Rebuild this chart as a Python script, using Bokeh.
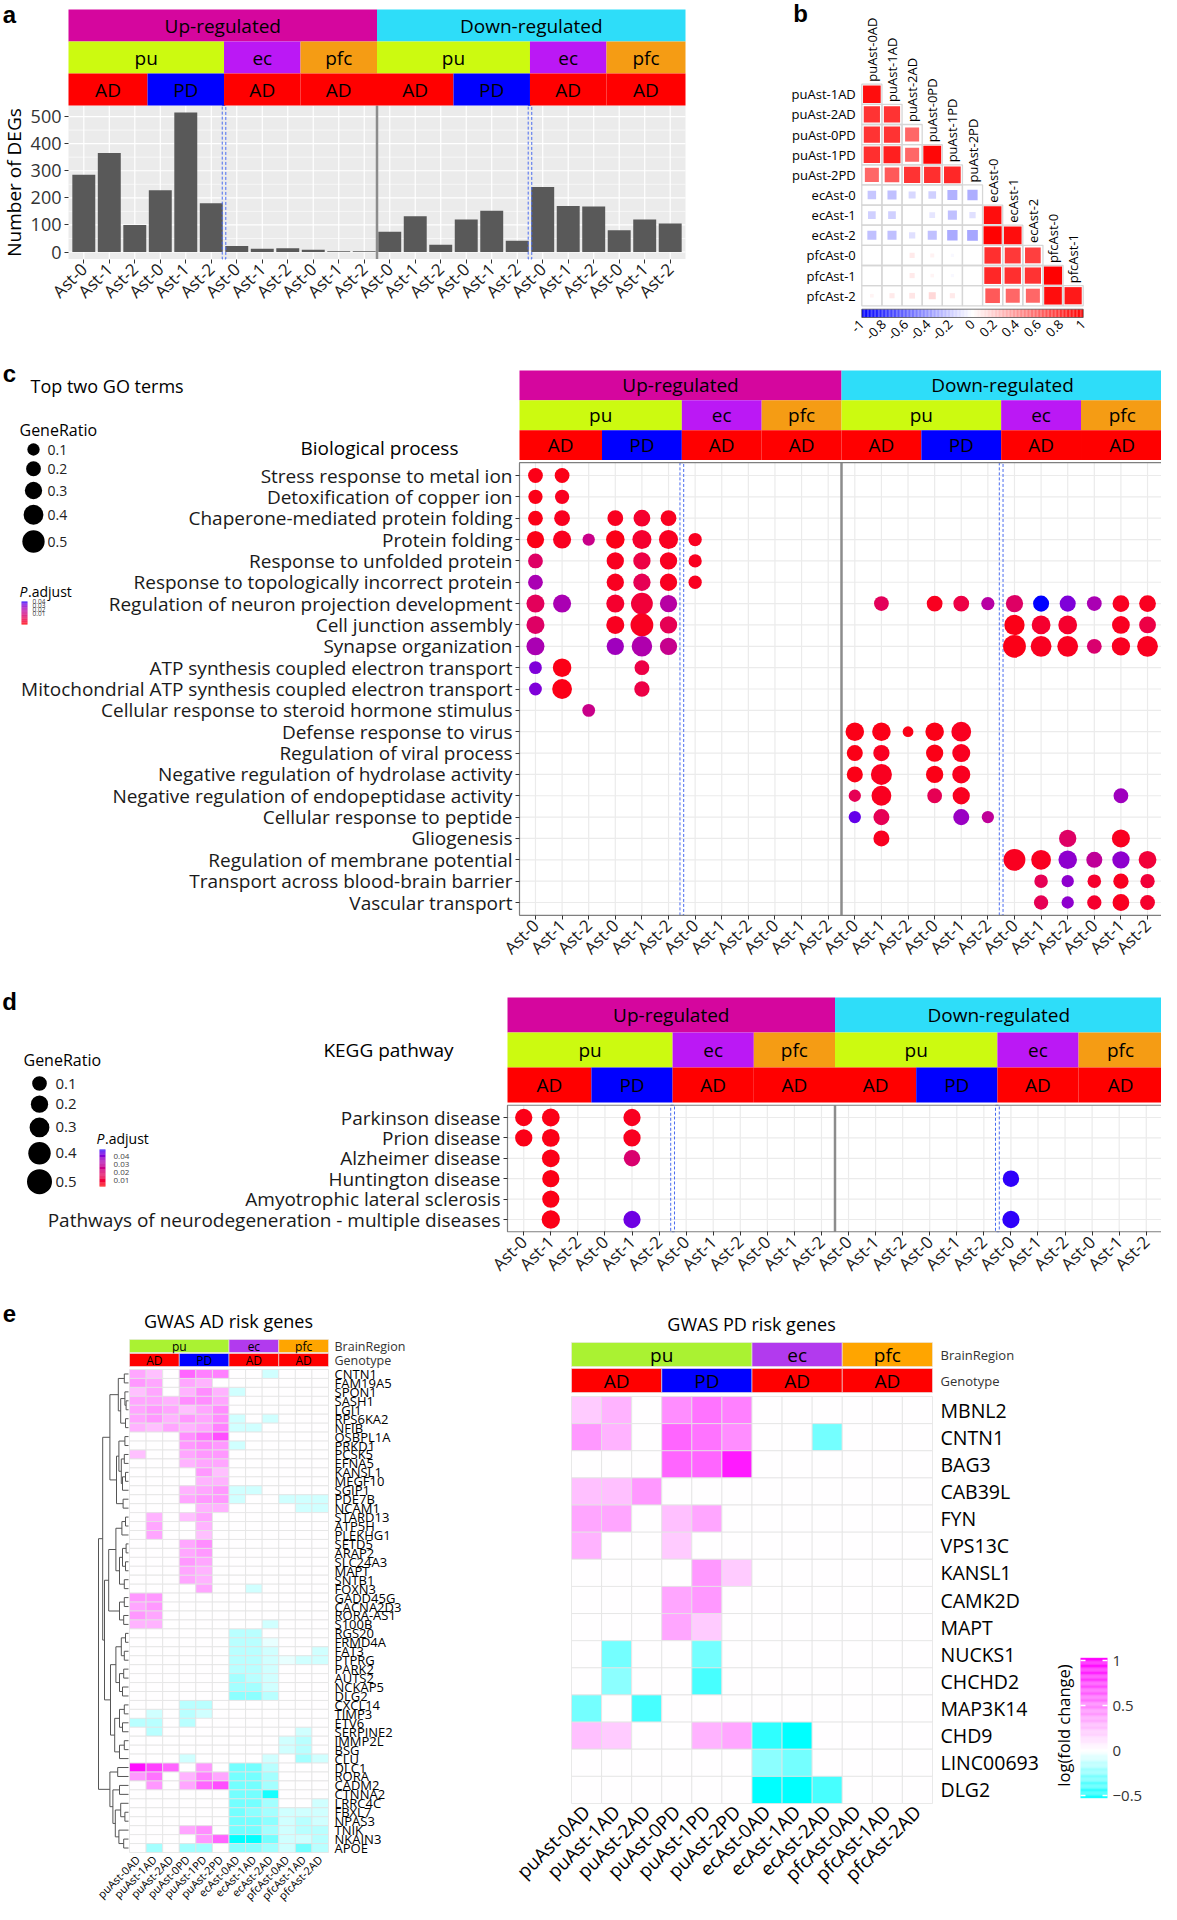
import numpy as np
from math import pi
from bokeh.plotting import figure
from bokeh.models import Range1d, LinearAxis, FixedTicker, LinearColorMapper, ColumnDataSource
from bokeh.transform import transform
from bokeh.core.properties import value
from bokeh.embed import file_html
from bokeh.resources import INLINE

FONT = "Open Sans"
W, H, OFF = 1161, 1902, 8

# ------------------------------------------------------------------ data
clusters = ["Ast-0", "Ast-1", "Ast-2"]
directions = ["Up-regulated", "Down-regulated"]
regions = ["pu", "ec", "pfc"]
region_ncols = [6, 3, 3]
genotypes = ["AD", "PD", "AD", "AD"]
genotype_ncols = [3, 3, 3, 3]
col_labels = clusters * 8

# panel a : number of DEGs
deg_up = [285, 365, 100, 228, 515, 180, 22, 12, 14, 8, 3, 3]
deg_down = [75, 132, 27, 120, 152, 42, 240, 170, 168, 80, 120, 105]

# panel b : correlation (lower triangle)
corr_rows = ["puAst-1AD", "puAst-2AD", "puAst-0PD", "puAst-1PD", "puAst-2PD", "ecAst-0",
             "ecAst-1", "ecAst-2", "pfcAst-0", "pfcAst-1", "pfcAst-2"]
corr_cols = ["puAst-0AD", "puAst-1AD", "puAst-2AD", "puAst-0PD", "puAst-1PD", "puAst-2PD",
             "ecAst-0", "ecAst-1", "ecAst-2", "pfcAst-0", "pfcAst-1"]
corr_vals = [
    [0.95],
    [0.8, 0.8],
    [0.8, 0.8, 0.6],
    [0.82, 0.88, 0.6, 0.97],
    [0.6, 0.65, 0.8, 0.82, 0.85],
    [-0.22, -0.25, -0.15, -0.18, -0.3, -0.32],
    [-0.18, -0.18, 0.0, -0.1, -0.25, -0.12, 0.95],
    [-0.25, -0.25, -0.12, -0.25, -0.33, -0.35, 1.0, 0.95],
    [0.0, 0.0, 0.08, 0.05, -0.03, 0.0, 0.82, 0.78, 0.75],
    [0.0, 0.0, 0.08, 0.04, -0.03, 0.0, 0.85, 0.82, 0.8, 1.0],
    [0.04, 0.08, 0.1, 0.15, 0.08, 0.0, 0.65, 0.6, 0.6, 0.95, 0.9],
]

# panel c : GO terms
go_terms = ["Stress response to metal ion", "Detoxification of copper ion",
            "Chaperone-mediated protein folding", "Protein folding",
            "Response to unfolded protein", "Response to topologically incorrect protein",
            "Regulation of neuron projection development", "Cell junction assembly",
            "Synapse organization", "ATP synthesis coupled electron transport",
            "Mitochondrial ATP synthesis coupled electron transport",
            "Cellular response to steroid hormone stimulus", "Defense response to virus",
            "Regulation of viral process", "Negative regulation of hydrolase activity",
            "Negative regulation of endopeptidase activity", "Cellular response to peptide",
            "Gliogenesis", "Regulation of membrane potential",
            "Transport across blood-brain barrier", "Vascular transport"]
go_cols = [[0, 1], [0, 1], [0, 1, 3, 4, 5], [0, 1, 2, 3, 4, 5, 6], [0, 3, 4, 5, 6], [0, 3, 4, 5, 6],
           [0, 1, 3, 4, 5, 13, 15, 16, 17, 18, 19, 20, 21, 22, 23],
           [0, 3, 4, 5, 18, 19, 20, 22, 23], [0, 3, 4, 5, 18, 19, 20, 21, 22, 23],
           [0, 1, 4], [0, 1, 4], [2], [12, 13, 14, 15, 16], [12, 13, 15, 16], [12, 13, 15, 16],
           [12, 13, 15, 16, 22], [12, 13, 16, 17], [13, 20, 22], [18, 19, 20, 21, 22, 23],
           [19, 20, 21, 22, 23], [19, 20, 21, 22, 23]]
go_ratios = [[0.2, 0.2], [0.18, 0.18], [0.2, 0.24, 0.24, 0.28, 0.24],
             [0.3, 0.33, 0.1, 0.35, 0.37, 0.37, 0.14], [0.2, 0.3, 0.3, 0.3, 0.14],
             [0.2, 0.3, 0.3, 0.3, 0.14],
             [0.33, 0.33, 0.33, 0.48, 0.3, 0.2, 0.24, 0.24, 0.14, 0.3, 0.25, 0.25, 0.2, 0.28, 0.28],
             [0.33, 0.33, 0.52, 0.3, 0.42, 0.36, 0.36, 0.32, 0.28],
             [0.33, 0.3, 0.43, 0.3, 0.52, 0.44, 0.44, 0.2, 0.34, 0.44],
             [0.12, 0.35, 0.2], [0.12, 0.4, 0.22], [0.12], [0.35, 0.35, 0.04, 0.35, 0.4],
             [0.25, 0.26, 0.3, 0.33], [0.25, 0.45, 0.3, 0.33], [0.1, 0.4, 0.2, 0.3, 0.2],
             [0.1, 0.25, 0.25, 0.1], [0.25, 0.3, 0.33], [0.48, 0.4, 0.35, 0.25, 0.3, 0.32],
             [0.15, 0.1, 0.15, 0.22, 0.18], [0.18, 0.1, 0.18, 0.28, 0.2]]
go_padjs = [[0.005, 0.005], [0.005, 0.006], [0.005, 0.006, 0.006, 0.008, 0.006],
            [0.005, 0.006, 0.025, 0.005, 0.008, 0.006, 0.006], [0.018, 0.006, 0.012, 0.006, 0.006],
            [0.033, 0.006, 0.015, 0.006, 0.006],
            [0.016, 0.033, 0.008, 0.01, 0.03, 0.016, 0.006, 0.012, 0.03, 0.018, 0.047, 0.04, 0.033, 0.006, 0.006],
            [0.018, 0.006, 0.006, 0.015, 0.005, 0.008, 0.008, 0.006, 0.012],
            [0.033, 0.035, 0.032, 0.026, 0.005, 0.006, 0.006, 0.02, 0.006, 0.006],
            [0.04, 0.005, 0.012], [0.04, 0.005, 0.012], [0.025], [0.005, 0.005, 0.005, 0.005, 0.006],
            [0.005, 0.006, 0.005, 0.006], [0.005, 0.006, 0.005, 0.006], [0.015, 0.006, 0.015, 0.006, 0.035],
            [0.043, 0.015, 0.036, 0.028], [0.006, 0.018, 0.006], [0.006, 0.006, 0.038, 0.028, 0.038, 0.01],
            [0.015, 0.038, 0.008, 0.006, 0.01], [0.015, 0.038, 0.008, 0.006, 0.008]]

# panel d : KEGG pathways
kegg_terms = ["Parkinson disease", "Prion disease", "Alzheimer disease", "Huntington disease",
              "Amyotrophic lateral sclerosis", "Pathways of neurodegeneration - multiple diseases"]
kegg_cols = [[0, 1, 4], [0, 1, 4], [1, 4], [1, 18], [1], [1, 4, 18]]
kegg_ratios = [[0.2, 0.22, 0.2], [0.2, 0.22, 0.2], [0.22, 0.17], [0.2, 0.17], [0.2], [0.24, 0.2, 0.2]]
kegg_padjs = [[0.005, 0.005, 0.006], [0.005, 0.005, 0.006], [0.005, 0.02], [0.005, 0.046],
              [0.005], [0.005, 0.042, 0.046]]
legend_ratios = [0.1, 0.2, 0.3, 0.4, 0.5]
legend_padj = [0.04, 0.03, 0.02, 0.01]

# panel e : GWAS heatmaps
sample_region = sum([[r] * n for r, n in zip(regions, region_ncols)], [])
sample_genotype = sum([[g] * n for g, n in zip(genotypes, genotype_ncols)], [])
samples = [sample_region[i] + clusters[i % 3] + sample_genotype[i] for i in range(12)]

ad_genes = ["CNTN1", "FAM19A5", "SPON1", "SASH1", "LGI1", "RPS6KA2", "NFIB", "OSBPL1A", "PRKD1",
            "PCSK5", "EFNA5", "KANSL1", "MEGF10", "SGIP1", "PDE7B", "NCAM1", "STARD13", "ATP5H",
            "PLEKHG1", "SETD5", "ARAP2", "SLC24A3", "MAPT", "SNTB1", "FOXN3", "GADD45G",
            "CACNA2D3", "RORA-AS1", "S100B", "RGS20", "FRMD4A", "FAT3", "PTPRG", "PARK2", "AUTS2",
            "NCKAP5", "DLG2", "CXCL14", "TIMP3", "ETV6", "SERPINE2", "IMMP2L", "BSG", "CLU",
            "DLC1", "RORA", "CADM2", "CTNNA2", "LRRC4C", "FBXL7", "NPAS3", "TNIK", "NKAIN3", "APOE"]
ad_lfc = [
    [0.35, 0.25, 0, 0.6, 0.5, 0.5, 0, 0, -0.1, 0, 0, 0],
    [0.4, 0.35, 0, 0.35, 0.3, 0, 0, 0, 0, 0, 0, 0],
    [0.25, 0.35, 0, 0.3, 0.45, 0.3, -0.1, 0, 0, 0, 0, 0],
    [0.35, 0.35, 0.3, 0.45, 0.45, 0.35, 0, 0, 0, 0, 0, 0],
    [0.35, 0.4, 0.35, 0.25, 0.35, 0.45, 0, 0, 0, 0, 0, 0],
    [0.35, 0.4, 0.3, 0.4, 0.35, 0.45, -0.1, 0, -0.1, 0, 0, 0],
    [0.3, 0.25, 0.35, 0.3, 0.35, 0.5, -0.1, -0.1, 0, 0, 0, 0],
    [0, 0, 0, 0.45, 0.55, 0.7, 0, 0, 0, 0, 0, 0],
    [0, 0, 0, 0.4, 0.45, 0.4, -0.1, 0, 0, 0, 0, 0],
    [0.25, 0, 0, 0.35, 0.4, 0.4, 0, 0, 0, 0, 0, 0],
    [0, 0, 0, 0.3, 0.35, 0.35, 0, 0, 0, 0, 0, 0],
    [0, 0, 0, 0, 0.4, 0.25, 0, 0, 0, 0, 0, 0],
    [0, 0, 0, 0, 0.3, 0.3, 0, 0, 0, 0, 0, 0],
    [0, 0, 0, 0.3, 0.35, 0.4, -0.1, -0.1, 0, 0, 0, 0],
    [0, 0, 0, 0.35, 0.4, 0.4, -0.1, 0, 0, -0.1, -0.1, -0.1],
    [0, 0, 0, 0, 0.3, 0.3, 0, 0, 0, 0, -0.1, -0.1],
    [0, 0.3, 0, 0.25, 0.35, 0, 0, 0, 0, 0, 0, 0],
    [0, 0.35, 0, 0, 0.3, 0, 0, 0, 0, 0, 0, 0],
    [0, 0.35, 0, 0, 0.25, 0, 0, 0, 0, 0, 0, 0],
    [0, 0, 0, 0.35, 0.45, 0, 0, 0, 0, 0, 0, 0],
    [0, 0, 0, 0.35, 0.4, 0, 0, 0, 0, 0, 0, 0],
    [0, 0, 0, 0.4, 0.35, 0, 0, 0, 0, 0, 0, 0],
    [0, 0, 0, 0.35, 0.3, 0, 0, 0, 0, 0, 0, 0],
    [0, 0, 0, 0.35, 0.3, 0, 0, 0, 0, 0, 0, 0],
    [0, 0, 0, 0, 0.35, 0, 0, -0.1, 0, 0, 0, 0],
    [0.4, 0.4, 0, 0, 0, 0, 0, 0, 0, 0, 0, 0],
    [0.35, 0.4, 0, 0, 0, 0, 0, 0, 0, 0, 0, 0],
    [0.4, 0.35, 0, 0, 0, 0, 0, 0, 0, 0, 0, 0],
    [0.3, 0.3, 0, 0, 0, 0, 0, 0, -0.1, 0, 0, 0],
    [0, 0, 0, 0, 0, 0, -0.15, -0.15, 0, 0, 0, 0],
    [0, 0, 0, 0, 0, 0, -0.15, -0.15, -0.05, 0, 0, 0],
    [0, 0, 0, 0, 0, 0, -0.15, -0.15, -0.1, 0, 0, -0.1],
    [0, 0, 0, 0, 0, 0, -0.15, -0.15, -0.1, -0.05, -0.1, -0.1],
    [0, 0, 0, 0, 0, 0, -0.15, -0.15, -0.1, 0, 0, 0],
    [0, 0, 0, 0, 0, 0, -0.2, -0.15, -0.1, 0, 0, 0],
    [0, 0, 0, 0, 0, 0, -0.2, -0.2, -0.1, 0, 0, 0],
    [0, 0, 0, 0, 0, 0, -0.25, -0.25, -0.15, 0, 0, 0],
    [0, 0, 0, -0.15, -0.15, 0, 0, 0, 0, 0, 0, 0],
    [0, -0.1, 0, -0.15, -0.1, 0, 0, 0, 0, 0, 0, 0],
    [-0.15, -0.15, 0, -0.15, 0, 0, 0, 0, 0, 0, 0, 0],
    [0, -0.15, 0, 0, 0, 0, 0, 0, 0, 0, -0.1, 0],
    [0, 0, 0, 0, 0, 0, 0, 0, 0, -0.1, -0.15, 0],
    [0, 0, 0, 0, 0, 0, 0, 0, 0, -0.1, -0.15, 0],
    [0, 0, 0, -0.1, 0, 0, 0, 0, -0.1, 0, -0.2, -0.1],
    [0.95, 0.75, 0.6, 0, 0.4, 0, -0.3, -0.3, -0.15, 0, 0, 0],
    [0.4, 0.55, 0, 0.3, 0.5, 0.35, -0.3, -0.3, -0.2, 0, 0, 0],
    [0, 0.4, 0, 0.35, 0.6, 0.7, -0.3, -0.3, -0.2, 0, 0, 0],
    [0, 0, 0, 0, 0, 0, -0.3, -0.3, -0.5, 0, 0, 0],
    [0, 0, 0, 0, 0, 0, -0.3, -0.3, -0.2, 0, 0, -0.1],
    [0, 0, 0, 0, 0, 0, -0.3, -0.25, -0.2, -0.1, -0.1, -0.1],
    [0, 0, 0, 0, 0, 0, -0.3, -0.3, -0.25, -0.1, -0.15, -0.1],
    [0, 0, 0, 0.35, 0.45, 0, -0.3, -0.3, -0.2, -0.1, -0.15, -0.15],
    [0, 0, 0, 0, 0.4, 0.6, -0.55, -0.6, -0.3, -0.1, -0.1, -0.15],
    [0, -0.2, 0, -0.2, -0.2, 0, -0.25, -0.25, -0.2, -0.1, -0.3, -0.15],
]
# dendrogram of AD genes: [merge height, left, right], leaves = row index
ad_dendrogram = [1.0,
    [0.86,
        [0.62,
            [0.34, [0.14, 0, 1], [0.26, [0.12, 2, [0.08, 3, 4]], [0.1, 5, 6]]],
            [0.4, [0.32, [0.12, 7, 8], [0.24, [0.14, 9, 10], [0.2, [0.1, 11, 12], 13]]], [0.18, 14, 15]]],
        [0.8,
            [0.66,
                [0.42, [0.22, [0.1, 16, 17], 18], [0.3, [0.2, [0.08, 19, 20], [0.1, 21, 22]], [0.14, 23, 24]]],
                [0.3, [0.14, 25, 26], [0.16, 27, 28]]],
            [0.6,
                [0.42, [0.24, [0.1, 29, 30], [0.14, 31, 32]], [0.3, [0.16, 33, 34], [0.2, 35, 36]]],
                [0.46, [0.3, [0.14, 37, 38], [0.2, 39, 40]], [0.3, [0.14, 41, 42], 43]]]]],
    [0.62,
        [0.36, 44, 45],
        [0.52, [0.3, 46, 47], [0.44, [0.26, 48, [0.12, 49, 50]], [0.32, 51, [0.16, 52, 53]]]]]]

pd_genes = ["MBNL2", "CNTN1", "BAG3", "CAB39L", "FYN", "VPS13C", "KANSL1", "CAMK2D", "MAPT",
            "NUCKS1", "CHCHD2", "MAP3K14", "CHD9", "LINC00693", "DLG2"]
pd_lfc = [
    [0.2, 0.3, 0, 0.45, 0.55, 0.5, 0, 0, 0, 0, 0, 0],
    [0.4, 0.3, 0, 0.6, 0.55, 0.45, 0, 0, -0.3, 0, 0, 0],
    [0, 0, 0, 0.6, 0.6, 0.9, 0, 0, 0, 0, 0, 0],
    [0.25, 0.25, 0.4, 0, 0, 0, 0, 0, 0, 0, 0, 0],
    [0.35, 0.35, 0, 0.25, 0.35, 0, 0, 0, 0, 0, 0, 0],
    [0.3, 0, 0, 0.2, 0, 0, 0, 0, 0, 0, 0, 0],
    [0, 0, 0, 0, 0.4, 0.2, 0, 0, 0, 0, 0, 0],
    [0, 0, 0, 0.35, 0.4, 0, 0, 0, 0, 0, 0, 0],
    [0, 0, 0, 0.35, 0.2, 0, 0, 0, 0, 0, 0, 0],
    [0, -0.3, 0, 0, -0.3, 0, 0, 0, 0, 0, 0, 0],
    [0, -0.25, 0, 0, -0.4, 0, 0, 0, 0, 0, 0, 0],
    [-0.3, 0, -0.4, 0, 0, 0, 0, 0, 0, 0, 0, 0],
    [0.25, 0.2, 0, 0, 0.3, 0.35, -0.45, -0.55, 0, 0, 0, 0],
    [0, 0, 0, 0, 0, 0, -0.25, -0.3, 0, 0, 0, 0],
    [0, 0, 0, 0, 0, 0, -0.6, -0.6, -0.4, 0, 0, 0],
]
lfc_ticks = [-0.5, 0, 0.5, 1]

# ------------------------------------------------------------------ colours
dir_colors = {"Up-regulated": "#D5069E", "Down-regulated": "#2EDDF9"}
reg_colors = {"pu": "#CCFA10", "ec": "#BB18F5", "pfc": "#F59C14"}
geno_colors = {"AD": "#FF0000", "PD": "#0000FF"}
e_reg_colors = {"pu": "#AAF232", "ec": "#B23AEE", "pfc": "#FFA500"}


def _lin(c):
    c = c / 255.0
    return c / 12.92 if c <= 0.04045 else ((c + 0.055) / 1.055) ** 2.4


def _gam(c):
    v = 12.92 * c if c <= 0.0031308 else 1.055 * max(c, 0) ** (1 / 2.4) - 0.055
    return int(round(min(1, max(0, v)) * 255))


def rgb2lab(rgb):
    r, g, b = [_lin(c) for c in rgb]
    X = (0.4124 * r + 0.3576 * g + 0.1805 * b) / 0.95047
    Y = 0.2126 * r + 0.7152 * g + 0.0722 * b
    Z = (0.0193 * r + 0.1192 * g + 0.9505 * b) / 1.08883
    f = lambda t: t ** (1 / 3) if t > 0.008856 else 7.787 * t + 16 / 116
    return 116 * f(Y) - 16, 500 * (f(X) - f(Y)), 200 * (f(Y) - f(Z))


def lab2hex(L, a, b):
    fy = (L + 16) / 116
    fx, fz = fy + a / 500, fy - b / 200
    fi = lambda t: t ** 3 if t ** 3 > 0.008856 else (t - 16 / 116) / 7.787
    X, Y, Z = 0.95047 * fi(fx), fi(fy), 1.08883 * fi(fz)
    r = 3.2406 * X - 1.5372 * Y - 0.4986 * Z
    g = -0.9689 * X + 1.8758 * Y + 0.0415 * Z
    bb = 0.0557 * X - 0.2040 * Y + 1.0570 * Z
    return "#%02x%02x%02x" % (_gam(r), _gam(g), _gam(bb))


lab_red, lab_blue = rgb2lab((255, 0, 0)), rgb2lab((0, 0, 255))
padj_palette = [lab2hex(*[lab_red[k] + (lab_blue[k] - lab_red[k]) * t / 255 for k in range(3)])
                for t in range(256)]
padj_mapper = LinearColorMapper(palette=padj_palette, low=0.003, high=0.047)


def hexrgb(r, g, b):
    return "#%02x%02x%02x" % (int(round(r)), int(round(g)), int(round(b)))


corr_palette = []
for k in range(256):
    v = -1 + 2 * (k + 0.5) / 256
    t = abs(v)
    corr_palette.append(hexrgb(255 * (1 - t), 255 * (1 - t), 255) if v < 0 else hexrgb(255, 255 * (1 - t), 255 * (1 - t)))
corr_mapper = LinearColorMapper(palette=corr_palette, low=-1, high=1)

LFC_LO, LFC_HI = -0.6, 1.05
lfc_palette = []
for k in range(256):
    v = LFC_LO + (LFC_HI - LFC_LO) * (k + 0.5) / 256
    if v < 0:
        t = min(1, -v / 0.55)
        lfc_palette.append(hexrgb(255 * (1 - t), 255, 255))
    else:
        t = min(1, v / 1.0)
        lfc_palette.append(hexrgb(255, 255 * (1 - t), 255))
lfc_mapper = LinearColorMapper(palette=lfc_palette, low=LFC_LO, high=LFC_HI)

# ------------------------------------------------------------------ figure & ranges
p = figure(width=W, height=H, x_range=Range1d(OFF, OFF + W), y_range=Range1d(OFF + H, OFF),
           output_backend="svg", toolbar_location=None, x_axis_type=None, y_axis_type=None,
           min_border=0)
p.outline_line_color = None
p.background_fill_color = "white"
p.border_fill_color = "white"

xr, yr = {}, {}


def add_x(name, d0, d1, px0, px1):
    s = (d1 - d0) / (px1 - px0)
    xr[name] = Range1d(start=d0 + (OFF - px0) * s, end=d0 + (OFF + W - px0) * s)


def add_y(name, d0, d1, py0, py1):
    s = (d1 - d0) / (py1 - py0)
    yr[name] = Range1d(start=d0 + (OFF + H - py0) * s, end=d0 + (OFF - py0) * s)


ncol = len(deg_up) + len(deg_down)
a_vals = deg_up + deg_down
a_ymax, a_ymin = max(a_vals) * 1.05, -max(a_vals) * 0.05
add_x("a_x", -0.6, ncol - 0.4, 76, 693)
add_y("a_y", a_ymin, a_ymax, 266.5, 113)
add_y("a_h", 0, 3, 113, 17)
add_x("b_x", -0.5, len(corr_cols) - 0.5, 869.3, 1090.7)
add_y("b_y", -0.5, len(corr_rows) - 0.5, 91.7, 313.3)
add_x("b_cb", -1, 1, 869.3, 1090.7)
add_x("c_x", -0.6, ncol - 0.4, 527, 1171)
add_y("c_y", 0, len(go_terms) - 1, 483, 910)
add_y("c_h", 0, 3, 467.5, 378)
add_x("d_x", -0.6, ncol - 0.4, 515, 1170)
add_y("d_y", 0, len(kegg_terms) - 1, 1125, 1227)
add_y("d_h", 0, 3, 1110, 1005)
add_x("el_x", -0.5, len(samples) - 0.5, 137, 336)
add_y("el_y", -0.5, len(ad_genes) - 0.5, 1377, 1860)
add_x("dd_x", 0, 1, 136, 106)
add_x("er_x", -0.5, len(samples) - 0.5, 579, 940)
add_y("er_y", -0.5, len(pd_genes) - 0.5, 1404, 1811)
add_y("ecb_y", 0, 1, 1758, 1668)
p.extra_x_ranges = xr
p.extra_y_ranges = yr


def R(xn=None, yn=None):
    d = {}
    if xn:
        d["x_range_name"] = xn
    if yn:
        d["y_range_name"] = yn
    return d


def T(x, y, s, size, xn=None, yn=None, align="center", base="middle", angle=0,
      color="black", style="normal", font=FONT):
    xs = list(x) if isinstance(x, (list, tuple, np.ndarray)) else [x]
    n = len(xs)
    ys = list(y) if isinstance(y, (list, tuple, np.ndarray)) else [y] * n
    ss = list(s) if isinstance(s, (list, tuple)) else [s] * n
    p.text(x=xs, y=ys, text=ss, text_font=value(font), text_font_size=f"{size}px",
           text_align=align, text_baseline=base, angle=angle, text_color=color,
           text_font_style=style, **R(xn, yn))


def axis(side, xn, yn, loc, ticks, labels, size, orient=None, standoff=4, color="#1A1A1A",
         tick_out=0, font=FONT):
    ticks = list(ticks)
    ax = LinearAxis(x_range_name=xn or "default", y_range_name=yn or "default",
                    fixed_location=loc, ticker=FixedTicker(ticks=ticks),
                    major_label_overrides={t: str(l) for t, l in zip(ticks, labels)})
    ax.axis_line_color = None
    ax.minor_tick_line_color = None
    ax.major_tick_in = 0
    ax.major_tick_out = tick_out
    ax.major_tick_line_color = "#333333" if tick_out else None
    ax.major_label_text_font = font
    ax.major_label_text_font_size = f"{size}px"
    ax.major_label_text_color = color
    ax.major_label_standoff = standoff
    if orient is not None:
        ax.major_label_orientation = orient
    p.add_layout(ax, side)


def header(xn, yn, fs):
    lefts, rights, lvls, labs, cols = [], [], [], [], []
    per_dir = sum(region_ncols)
    for di, d in enumerate(directions):
        base = di * per_dir
        spans = [(2, base, base + per_dir, d, dir_colors[d])]
        s = base
        for r, n in zip(regions, region_ncols):
            spans.append((1, s, s + n, r, reg_colors[r]))
            s += n
        s = base
        for g, n in zip(genotypes, genotype_ncols):
            spans.append((0, s, s + n, g, geno_colors[g]))
            s += n
        for lvl, s0, s1, lab, c in spans:
            lefts.append(-0.6 if s0 == 0 else s0 - 0.5)
            rights.append(ncol - 0.4 if s1 == ncol else s1 - 0.5)
            lvls.append(lvl)
            labs.append(lab)
            cols.append(c)
    p.quad(left=lefts, right=rights, bottom=lvls, top=[l + 1 for l in lvls], fill_color=cols,
           line_color=None, **R(xn, yn))
    T([(a + b) / 2 for a, b in zip(lefts, rights)], [l + 0.5 for l in lvls], labs, fs, xn, yn)


def separators(xn, yn, y0, y1):
    half = sum(region_ncols)
    solid = [half - 0.5]
    dashed = [region_ncols[0] - 0.5, half + region_ncols[0] - 0.5]
    p.segment(x0=solid, x1=solid, y0=y0, y1=y1, line_color="#8C8C8C", line_width=2.5, **R(xn, yn))
    p.quad(left=[s - 0.07 for s in dashed], right=[s + 0.07 for s in dashed], bottom=y0, top=y1,
           fill_color=None, line_color="#4A6CF0", line_dash="3 2", line_width=1, **R(xn, yn))


# ------------------------------------------------------------------ panel letters
T([17, 808, 17, 17, 17], [22, 21, 381, 1009, 1321], ["a", "b", "c", "d", "e"], 24,
  style="bold", font="Liberation Sans")

# ------------------------------------------------------------------ panel a
a_x = list(range(ncol))
p.quad(left=[-0.6], right=[ncol - 0.4], bottom=[a_ymin], top=[a_ymax], fill_color="#EBEBEB",
       line_color=None, **R("a_x", "a_y"))
y_major = list(range(0, int(a_ymax) + 1, 100))
y_minor = [v + 50 for v in y_major if v + 50 < a_ymax]
p.segment(x0=-0.6, x1=ncol - 0.4, y0=y_minor, y1=y_minor, line_color="white", line_width=0.6, **R("a_x", "a_y"))
p.segment(x0=-0.6, x1=ncol - 0.4, y0=y_major, y1=y_major, line_color="white", line_width=1.2, **R("a_x", "a_y"))
p.segment(x0=a_x, x1=a_x, y0=a_ymin, y1=a_ymax, line_color="white", line_width=1.2, **R("a_x", "a_y"))
p.vbar(x=a_x, top=a_vals, bottom=0, width=0.9, fill_color="#595959", line_color=None, **R("a_x", "a_y"))
separators("a_x", "a_y", a_ymin, a_ymax)
header("a_x", "a_h", 19)
axis("left", "a_x", "a_y", -0.6, y_major, [str(v) for v in y_major], 18, standoff=3,
     color="#333333", tick_out=4)
axis("below", "a_x", "a_y", a_ymin, a_x, col_labels, 17, orient=pi / 4, standoff=3,
     color="#1A1A1A", tick_out=4)
T(21, 190, "Number of DEGs", 19, angle=pi / 2)

# ------------------------------------------------------------------ panel b
bx, by, bv = [], [], []
for i, row in enumerate(corr_vals):
    for j, v in enumerate(row):
        bx.append(j)
        by.append(i)
        bv.append(v)
bsrc = ColumnDataSource(dict(x=bx, y=by, v=bv, s=[0.9 * np.sqrt(abs(v)) for v in bv]))
p.rect(x="x", y="y", width=1, height=1, source=bsrc, fill_color=None, line_color="#D6D6D6",
       line_width=1.3, **R("b_x", "b_y"))
p.rect(x="x", y="y", width="s", height="s", source=bsrc, fill_color=transform("v", corr_mapper),
       line_color=None, **R("b_x", "b_y"))
axis("left", "b_x", "b_y", -0.5, range(len(corr_rows)), corr_rows, 13, standoff=6, color="black")
T(list(range(len(corr_cols))), [j - 0.62 for j in range(len(corr_cols))], corr_cols, 13,
  "b_x", "b_y", align="left", angle=pi / 2)
cb = np.linspace(-1, 1, 161)
cbsrc = ColumnDataSource(dict(l=cb[:-1], r=cb[1:], m=(cb[:-1] + cb[1:]) / 2))
p.quad(left="l", right="r", bottom=325, top=316.7, source=cbsrc,
       fill_color=transform("m", corr_mapper), line_color=None, x_range_name="b_cb")
p.quad(left=[-1], right=[1], bottom=[325], top=[316.7], fill_color=None, line_color="#555555",
       line_width=0.8, x_range_name="b_cb")
cb_ticks = [round(-1 + 0.2 * k, 1) for k in range(11)]
axis("below", "b_cb", None, 325.5, cb_ticks, ["0" if abs(t) < 1e-9 else f"{t:g}" for t in cb_ticks],
     13, orient=pi / 4, standoff=4, color="black")


# ------------------------------------------------------------------ dot plots (c, d)
def dotplot(xn, yn, hn, terms, cols, ratios, padjs, size_fn, label_fs, hdr_fs):
    nt = len(terms)
    y0, y1 = -0.6, nt - 1 + 0.6
    rows_ = list(range(nt))
    p.segment(x0=a_x, x1=a_x, y0=y0, y1=y1, line_color="#EBEBEB", line_width=1.2, **R(xn, yn))
    p.segment(x0=-0.6, x1=ncol - 0.4, y0=rows_, y1=rows_, line_color="#EBEBEB", line_width=1.2, **R(xn, yn))
    separators(xn, yn, y0, y1)
    xs, ys, rs, ps = [], [], [], []
    for i in range(nt):
        for c, r, q in zip(cols[i], ratios[i], padjs[i]):
            xs.append(c)
            ys.append(i)
            rs.append(r)
            ps.append(q)
    src = ColumnDataSource(dict(x=xs, y=ys, size=[size_fn(r) for r in rs], padj=ps))
    p.scatter(x="x", y="y", size="size", source=src, fill_color=transform("padj", padj_mapper),
              line_color=None, **R(xn, yn))
    p.quad(left=[-0.6], right=[ncol - 0.4], bottom=[y0], top=[y1], fill_color=None,
           line_color="#7F7F7F", line_width=1.2, **R(xn, yn))
    header(xn, hn, hdr_fs)
    axis("left", xn, yn, -0.6, rows_, terms, label_fs, standoff=3, color="#1A1A1A", tick_out=4)
    axis("below", xn, yn, y1, a_x, col_labels, 17, orient=pi / 4, standoff=3, color="#1A1A1A",
         tick_out=4)


def size_legend(xc, y_first, xl, size_fn, gap, title_xy, lab_fs, title_fs):
    ds = [size_fn(v) for v in legend_ratios]
    ys = [y_first]
    for i in range(1, len(ds)):
        ys.append(ys[-1] + (ds[i - 1] + ds[i]) / 2 + gap)
    p.scatter(x=[xc] * len(ds), y=ys, size=ds, fill_color="black", line_color=None)
    T([xl] * len(ds), ys, [f"{v:g}" for v in legend_ratios], lab_fs, align="left", color="#222222")
    T(title_xy[0], title_xy[1], "GeneRatio", title_fs, align="left")


def padj_legend(x0, x1, ytop, ybot, lab_x, lab_y0, lab_step, lab_fs, title_xy):
    pv = np.linspace(0.047, 0.003, 41)
    yv = np.linspace(ytop, ybot, 41)
    src = ColumnDataSource(dict(t=yv[:-1], b=yv[1:], m=(pv[:-1] + pv[1:]) / 2))
    p.quad(left=x0, right=x1, top="t", bottom="b", source=src,
           fill_color=transform("m", padj_mapper), line_color=None)
    T([lab_x] * len(legend_padj), [lab_y0 + k * lab_step for k in range(len(legend_padj))],
      [f"{v:g}" for v in legend_padj], lab_fs, align="left", color="#444444")
    T(title_xy[0], title_xy[1], "P", 14, align="left", style="italic")
    T(title_xy[0] + 8.5, title_xy[1], ".adjust", 14, align="left")


size_c = lambda r: 9.8 + 25 * r
size_d = lambda r: 12.1 + 25.8 * r

dotplot("c_x", "c_y", "c_h", go_terms, go_cols, go_ratios, go_padjs, size_c, 19, 19)
T(38, 393, "Top two GO terms", 18, align="left")
T(387, 455, "Biological process", 19)
size_legend(41, 457, 55, size_c, 5.7, (27, 437), 14, 16)
padj_legend(29, 35, 609, 632, 40, 609, 4, 6.5, (27, 599))

dotplot("d_x", "d_y", "d_h", kegg_terms, kegg_cols, kegg_ratios, kegg_padjs, size_d, 19, 19)
T(396, 1057, "KEGG pathway", 19)
size_legend(47, 1091, 63, size_d, 4.7, (31, 1067), 15, 16)
padj_legend(107, 113, 1157, 1194, 121, 1164, 8, 8, (104, 1146))


# ------------------------------------------------------------------ panel e
def runs(keys):
    out, s = [], 0
    for i in range(1, len(keys) + 1):
        if i == len(keys) or keys[i] != keys[s]:
            out.append((s, i, keys[s]))
            s = i
    return out


def heatmap(xn, yn, genes, lfc, bar1, bar2, bar_fs, gene_fs, lab_fs, side_x, side_fs, xlab_y,
            gene_standoff):
    xs, ys, vs = [], [], []
    for i, row in enumerate(lfc):
        for j, v in enumerate(row):
            xs.append(j)
            ys.append(i)
            vs.append(v)
    src = ColumnDataSource(dict(x=xs, y=ys, v=vs))
    p.rect(x="x", y="y", width=1, height=1, source=src, fill_color=transform("v", lfc_mapper),
           line_color="#E3E3E3", line_width=0.8, **R(xn, yn))
    reg_runs = runs(sample_region)
    gen_runs = runs(list(zip(sample_region, sample_genotype)))
    for (top, bot), rr, colmap, lab in ((bar1, reg_runs, e_reg_colors, lambda k: k),
                                        (bar2, gen_runs, geno_colors, lambda k: k[1])):
        p.quad(left=[s - 0.5 for s, e, k in rr], right=[e - 0.5 for s, e, k in rr], top=top,
               bottom=bot, fill_color=[colmap[lab(k)] for s, e, k in rr], line_color="#E8E8E8",
               line_width=0.6, x_range_name=xn)
        T([(s + e) / 2 - 0.5 for s, e, k in rr], (top + bot) / 2, [lab(k) for s, e, k in rr],
          bar_fs, xn=xn)
    T(side_x, (bar1[0] + bar1[1]) / 2, "BrainRegion", side_fs, align="left", color="#333333")
    T(side_x, (bar2[0] + bar2[1]) / 2, "Genotype", side_fs, align="left", color="#333333")
    axis("right", xn, yn, len(samples) - 0.5, range(len(genes)), genes, gene_fs,
         standoff=gene_standoff, color="black")
    axis("below", xn, None, xlab_y, range(len(samples)), samples, lab_fs, orient=pi / 4,
         standoff=4, color="black")


heatmap("el_x", "el_y", ad_genes, ad_lfc, (1347, 1360), (1361, 1374), 12, 13, 11, 342, 12.5, 1861, 6)
T(236, 1328, "GWAS AD risk genes", 18)

seg = dict(x0=[], x1=[], y0=[], y1=[])


def walk(node):
    if isinstance(node, int):
        return float(node), 0.0
    h, l, r = node
    yl, hl = walk(l)
    yrr, hr = walk(r)
    for yy, hh in ((yl, hl), (yrr, hr)):
        seg["x0"].append(hh); seg["x1"].append(h); seg["y0"].append(yy); seg["y1"].append(yy)
    seg["x0"].append(h); seg["x1"].append(h); seg["y0"].append(yl); seg["y1"].append(yrr)
    return (yl + yrr) / 2, h


walk(ad_dendrogram)
p.segment(x0=seg["x0"], x1=seg["x1"], y0=seg["y0"], y1=seg["y1"], line_color="#555555",
          line_width=1, **R("dd_x", "el_y"))

heatmap("er_x", "er_y", pd_genes, pd_lfc, (1350, 1374), (1376, 1400), 19, 19.5, 19, 948, 13, 1812, 8)
T(759, 1331, "GWAS PD risk genes", 18)
# colour bar
cbv = np.linspace(-0.53, 1.03, 121)
cbs = ColumnDataSource(dict(b=cbv[:-1], t=cbv[1:], m=(cbv[:-1] + cbv[1:]) / 2))
p.quad(left=1088, right=1115, bottom="b", top="t", source=cbs, fill_color=transform("m", lfc_mapper),
       line_color=None, y_range_name="ecb_y")
p.segment(x0=1088, x1=1093, y0=lfc_ticks, y1=lfc_ticks, line_color="white", line_width=1.5, y_range_name="ecb_y")
p.segment(x0=1110, x1=1115, y0=lfc_ticks, y1=lfc_ticks, line_color="white", line_width=1.5, y_range_name="ecb_y")
axis("right", None, "ecb_y", 1115, lfc_ticks, [("−" if t < 0 else "") + f"{abs(t):g}" for t in lfc_ticks],
     15, standoff=5, color="#333333")
T(1071, 1733, "log(fold change)", 16.5, angle=pi / 2)

open("out.html", "w").write(file_html(p, INLINE))
